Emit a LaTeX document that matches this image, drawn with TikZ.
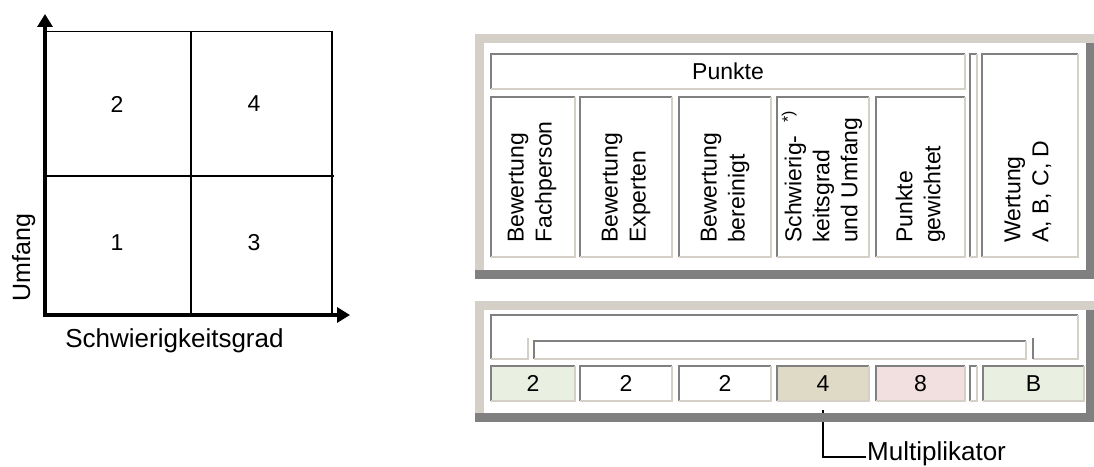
\documentclass[tikz,border=0pt]{standalone}
\usepackage{fontspec}
\setmainfont{Liberation Sans}
\usetikzlibrary{arrows.meta}
\definecolor{pbeige}{HTML}{D4D0C8}
\definecolor{pdark}{HTML}{808080}
\definecolor{cgreen}{HTML}{E9F0E1}
\definecolor{ctan}{HTML}{DFDAC6}
\definecolor{cpink}{HTML}{F2DFDF}
\newcommand{\sunkenedge}[1]{%
  \draw[dkedge] (#1.south west) -- (#1.north west) -- (#1.north east);
  \draw[ltedge] (#1.north east) -- (#1.south east) -- (#1.south west);}
\begin{document}
\begin{tikzpicture}[x=1pt,y=-1pt,
  dkedge/.style={draw=pdark,line width=2pt},
  ltedge/.style={draw=pbeige,line width=2pt},
  cellbox/.style={inner sep=0pt,outer sep=0pt,anchor=north west,font=\fontsize{23}{27.5}\selectfont},
  ptxt/.style={font=\fontsize{23}{28}\selectfont,inner sep=0pt,align=left,rotate=90,anchor=west},
  ntxt/.style={font=\fontsize{23}{27.5}\selectfont,inner sep=0pt},
  gdig/.style={font=\fontsize{23}{27}\selectfont,inner sep=0pt},
  thinln/.style={line width=1.5pt},
  axisln/.style={line width=4pt,{Triangle[length=13pt,width=15pt]}-{Triangle[length=13pt,width=15pt]}}
]
\fill[white] (0,0) rectangle (1094,465);

% ---------- left matrix ----------
\coordinate (O) at (45,315);
\coordinate (Yt) at (45,14);
\coordinate (Xt) at (350,315);
\coordinate (tl) at (45,31.5);
\coordinate (tr) at (332,31.5);
\coordinate (br) at (332,315);
\coordinate (mt) at (191,31.5);
\coordinate (mb) at (191,315);
\coordinate (ml) at (45,176);
\coordinate (mr) at (334,176);
\draw[thinln] (tl) -- (tr) -- (br);
\draw[thinln] (mt) -- (mb);
\draw[thinln] (ml) -- (mr);
\draw[axisln] (Yt) -- (O) -- (Xt);
\node[gdig] (q2) at (117,104) {2};
\node[gdig] (q4) at (254,104) {4};
\node[gdig] (q1) at (117,243) {1};
\node[gdig] (q3) at (254,243) {3};
\node[font=\fontsize{26}{30}\selectfont,inner sep=0pt,anchor=base] (xl) at (174.5,347) {Schwierigkeitsgrad};
\node[font=\fontsize{25}{30}\selectfont,inner sep=0pt,anchor=base,rotate=90] (yl) at (30,257.5) {Umfang};

% ---------- top panel ----------
\fill[pbeige] (475,34) rectangle (1094,43);
\fill[pbeige] (475,34) rectangle (484,270);
\fill[pdark] (1086,43) rectangle (1094,279);
\fill[pdark] (475,270) rectangle (1094,279);

\node[cellbox,minimum width=474pt,minimum height=35pt] (pk) at (491,54) {};
\node[cellbox,minimum width=84pt,minimum height=160pt] (c1) at (491,97) {};
\node[cellbox,minimum width=92pt,minimum height=160pt] (c2) at (580,97) {};
\node[cellbox,minimum width=92pt,minimum height=160pt] (c3) at (679,97) {};
\node[cellbox,minimum width=92pt,minimum height=160pt] (c4) at (777,97) {};
\node[cellbox,minimum width=89pt,minimum height=160pt] (c5) at (876,97) {};
\node[cellbox,minimum width=7pt,minimum height=203pt] (cs) at (970,54) {};
\node[cellbox,minimum width=96pt,minimum height=203pt] (cw) at (982,54) {};
\foreach \n in {pk,c1,c2,c3,c4,c5,cs,cw} {\sunkenedge{\n}}

\node[ntxt] (tp) at (pk.center) {Punkte};
\node[ptxt] (t1) at (532,243) {Bewertung\\Fachperson};
\node[ptxt] (t2) at (626,243) {Bewertung\\Experten};
\node[ptxt] (t3) at (725,243) {Bewertung\\bereinigt};
\node[ptxt] (t4) at (822,243) {Schwierig-\hspace{0.55em}\raisebox{0.35em}{\fontsize{16}{16}\selectfont *)}\\keitsgrad\\und Umfang};
\node[ptxt] (t5) at (920.5,243) {Punkte\\gewichtet};
\node[ptxt] (tw) at (1028,243) {Wertung\\A, B, C, D};

% ---------- connector ----------
\coordinate (ms) at (823,410);
\node[font=\fontsize{26}{30}\selectfont,inner sep=1pt,anchor=base west] (mult) at (866,460) {Multiplikator};
\draw[line width=1.5pt] (ms) |- ([yshift=3pt]mult.base west);

% ---------- bottom panel ----------
\fill[pbeige] (475,301) rectangle (1094,310);
\fill[pbeige] (475,301) rectangle (484,413);
\fill[pdark] (1086,310) rectangle (1094,422);
\fill[pdark] (475,413) rectangle (1094,422);

\draw[dkedge] (491,359) -- (491,315) -- (1078,315);
\draw[ltedge] (1078,315) -- (1078,359) -- (1033,359);
\draw[dkedge] (1033,359) -- (1033,338);
\draw[ltedge] (491,359) -- (528,359) -- (528,338);
\node[cellbox,minimum width=492pt,minimum height=18pt] (hb) at (534,341) {};
\sunkenedge{hb}

\node[cellbox,fill=cgreen,minimum width=84pt,minimum height=35pt] (b1) at (491,366) {2};
\node[cellbox,minimum width=92pt,minimum height=35pt] (b2) at (580,366) {2};
\node[cellbox,minimum width=92pt,minimum height=35pt] (b3) at (679,366) {2};
\node[cellbox,fill=ctan,minimum width=92pt,minimum height=35pt] (b4) at (777,366) {4};
\node[cellbox,fill=cpink,minimum width=89pt,minimum height=35pt] (b5) at (876,366) {8};
\node[cellbox,minimum width=7pt,minimum height=35pt] (bs) at (970,366) {};
\node[cellbox,fill=cgreen,minimum width=101pt,minimum height=35pt] (bb) at (983,366) {B};
\foreach \n in {b1,b2,b3,b4,b5,bs,bb} {\sunkenedge{\n}}
\end{tikzpicture}
\end{document}
